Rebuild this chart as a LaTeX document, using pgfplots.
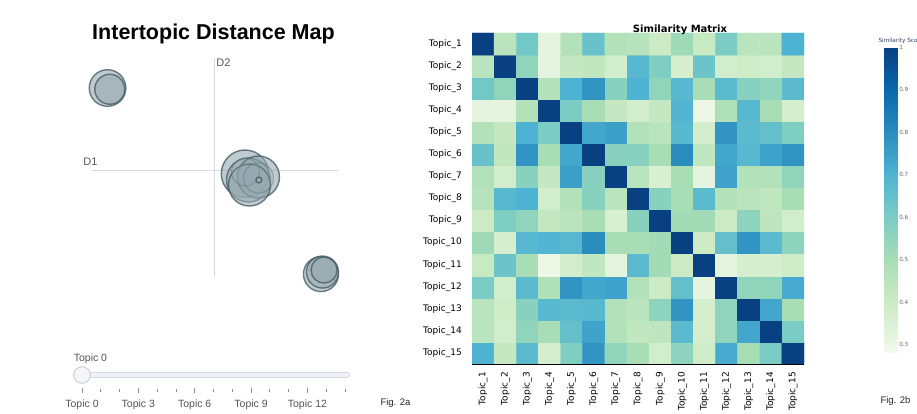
\documentclass[border=0pt]{standalone}
\usepackage{pgfplots}
\pgfplotsset{compat=1.18}
\usepackage{fontspec}
\setmainfont{Liberation Sans}
\newfontfamily\dejavu{DejaVu Sans}
\definecolor{bubblefill}{RGB}{150,168,175}
\definecolor{bubbleedge}{RGB}{70,95,100}
\definecolor{axgray}{RGB}{215,218,222}
\definecolor{lblgray}{RGB}{85,85,85}
\definecolor{trackedge}{RGB}{212,218,226}
\definecolor{trackfill}{RGB}{238,241,245}
\definecolor{knobfill}{RGB}{244,246,249}
\definecolor{knobedge}{RGB}{200,209,219}
\definecolor{cbtext}{RGB}{90,100,115}
\definecolor{cbtitle}{RGB}{42,63,95}
\pgfplotsset{colormap={gnbu}{rgb255(0cm)=(245,251,239); rgb255(4cm)=(228,244,222); rgb255(12cm)=(204,235,197); rgb255(22cm)=(168,221,181); rgb255(32cm)=(123,204,196); rgb255(42cm)=(78,179,211); rgb255(52cm)=(43,140,190); rgb255(62cm)=(8,104,172); rgb255(72cm)=(8,64,129)}}
\begin{document}
\begin{tikzpicture}
\useasboundingbox (0,0) rectangle (917pt,414pt);
% ---------------- Intertopic distance map ----------------
\begin{axis}[at={(91pt,137pt)}, anchor=south west, scale only axis,
  width=247pt, height=219pt, xmin=-1, xmax=1, ymin=-0.955, ymax=1,
  hide axis, clip=false]
\addplot[draw=axgray, line width=1pt] coordinates {(-1,0) (1,0)};
\addplot[draw=axgray, line width=1pt] coordinates {(0,-0.955) (0,1)};
\addplot[scatter, only marks, mark=*,
  scatter/use mapped color={draw=bubbleedge, fill=bubblefill, fill opacity=0.6, draw opacity=0.8},
  visualization depends on={\thisrow{r} \as \perpointmarksize},
  scatter/@pre marker code/.append style={/tikz/mark size=\perpointmarksize},
  mark options={line width=1.4pt}]
  table {
x y r
-0.866 0.732 18.3
-0.848 0.721 15
0.862 -0.929 17.5
0.874 -0.911 16
0.887 -0.893 13
0.247 -0.033 23.7
0.275 -0.089 22
0.356 -0.0625 21
0.283 -0.134 21
};
\addplot[scatter, only marks, mark=*,
  scatter/use mapped color={draw=bubbleedge, fill=bubblefill, fill opacity=0.25, draw opacity=0.35},
  visualization depends on={\thisrow{r} \as \perpointmarksize},
  scatter/@pre marker code/.append style={/tikz/mark size=\perpointmarksize},
  mark options={line width=1pt}]
  table {
x y r
0.251 -0.018 14
0.356 -0.071 15
};
\addplot[only marks, mark=o, mark size=3pt, mark options={draw=bubbleedge, line width=1.1pt}] coordinates {(0.359,-0.089)};
\node[font=\fontsize{11}{13}\selectfont, text=lblgray] at (axis cs:-1.004,0.074) {D1};
\node[font=\fontsize{11}{13}\selectfont, text=lblgray] at (axis cs:0.073,0.958) {D2};
\end{axis}
\node[anchor=base, font=\bfseries\fontsize{21.5}{24}\selectfont] at (213.5pt,374pt) {Intertopic Distance Map};
% ---------------- Slider ----------------
\begin{axis}[at={(82pt,23pt)}, anchor=south west, scale only axis,
  width=263pt, height=40pt, xmin=0, xmax=14, ymin=0, ymax=40, clip=false,
  axis line style={draw=none}, ytick=\empty,
  xtick={0,3,6,9,12}, xticklabels={Topic 0,Topic 3,Topic 6,Topic 9,Topic 12},
  minor xtick={1,2,4,5,7,8,10,11,13,14},
  xtick pos=left, tick align=center, major tick length=5pt, minor tick length=3pt,
  tick style={color=black!45, line width=0.8pt},
  xticklabel style={font=\fontsize{10.5}{12}\selectfont, text=lblgray, inner sep=2pt, yshift=-4pt}]
\addplot[draw=trackedge, line width=6.5pt, line cap=round] coordinates {(0,16) (14.1,16)};
\addplot[draw=trackfill, line width=4.5pt, line cap=round] coordinates {(0,16) (14.1,16)};
\addplot[only marks, mark=*, mark size=8.3pt, mark options={fill=knobfill, draw=knobedge, line width=1pt}] coordinates {(0,16)};
\node[font=\fontsize{10.5}{12}\selectfont, text=lblgray] at (axis cs:0.45,32.5) {Topic 0};
\end{axis}
\node[anchor=base west, font=\fontsize{9.5}{11}\selectfont, text=black!85] at (377pt,8pt) {Fig. 2a};
% ---------------- Similarity matrix ----------------
\begin{axis}[at={(472pt,50pt)}, anchor=south west, scale only axis,
  width=332pt, height=331pt, xmin=0.5, xmax=15.5, ymin=0.5, ymax=15.5,
  colormap name=gnbu, point meta min=0.28, point meta max=1,
  axis x line*=bottom, axis y line*=left,
  axis line style={black, line width=0.8pt},
  major tick length=0pt,
  xtick={1,...,15}, ytick={1,...,15},
  xticklabels={Topic\_1,Topic\_2,Topic\_3,Topic\_4,Topic\_5,Topic\_6,Topic\_7,Topic\_8,Topic\_9,Topic\_10,Topic\_11,Topic\_12,Topic\_13,Topic\_14,Topic\_15},
  yticklabels={Topic\_15,Topic\_14,Topic\_13,Topic\_12,Topic\_11,Topic\_10,Topic\_9,Topic\_8,Topic\_7,Topic\_6,Topic\_5,Topic\_4,Topic\_3,Topic\_2,Topic\_1},
  xticklabel style={rotate=90, anchor=east, font=\dejavu\fontsize{9}{10}\selectfont, inner xsep=8pt, inner ysep=0pt},
  yticklabel style={anchor=east, font=\dejavu\fontsize{9}{10}\selectfont, inner xsep=10pt, inner ysep=0pt},
  colorbar,
  colorbar style={at={(parent axis.north east)}, anchor=north west,
    xshift=72pt, yshift=-14pt, scale only axis, width=13pt, height=306pt,
    ytick={0.3,0.4,0.5,0.6,0.7,0.8,0.9,1},
    yticklabels={0.3,0.4,0.5,0.6,0.7,0.8,0.9,1},
    yticklabel style={font=\dejavu\fontsize{5.7}{6.5}\selectfont, text=cbtext, inner sep=1.5pt},
    major tick length=0pt, axis line style={draw=none}}]
\addplot[matrix plot*, mesh/cols=15, point meta=explicit] coordinates {
(1,1)[0.70] (2,1)[0.42] (3,1)[0.67] (4,1)[0.37] (5,1)[0.59] (6,1)[0.78] (7,1)[0.55] (8,1)[0.50] (9,1)[0.38] (10,1)[0.56] (11,1)[0.39] (12,1)[0.72] (13,1)[0.50] (14,1)[0.60] (15,1)[1.00]
(1,2)[0.45] (2,2)[0.38] (3,2)[0.55] (4,2)[0.50] (5,2)[0.65] (6,2)[0.74] (7,2)[0.47] (8,2)[0.43] (9,2)[0.44] (10,2)[0.67] (11,2)[0.37] (12,2)[0.55] (13,2)[0.73] (14,2)[1.00] (15,2)[0.60]
(1,3)[0.45] (2,3)[0.39] (3,3)[0.57] (4,3)[0.68] (5,3)[0.67] (6,3)[0.68] (7,3)[0.47] (8,3)[0.45] (9,3)[0.56] (10,3)[0.78] (11,3)[0.37] (12,3)[0.55] (13,3)[1.00] (14,3)[0.73] (15,3)[0.50]
(1,4)[0.60] (2,4)[0.38] (3,4)[0.67] (4,4)[0.48] (5,4)[0.78] (6,4)[0.73] (7,4)[0.74] (8,4)[0.47] (9,4)[0.40] (10,4)[0.65] (11,4)[0.32] (12,4)[1.00] (13,4)[0.55] (14,4)[0.55] (15,4)[0.72]
(1,5)[0.41] (2,5)[0.63] (3,5)[0.50] (4,5)[0.30] (5,5)[0.38] (6,5)[0.43] (7,5)[0.32] (8,5)[0.67] (9,5)[0.51] (10,5)[0.40] (11,5)[1.00] (12,5)[0.32] (13,5)[0.37] (14,5)[0.37] (15,5)[0.39]
(1,6)[0.52] (2,6)[0.37] (3,6)[0.68] (4,6)[0.69] (5,6)[0.68] (6,6)[0.80] (7,6)[0.50] (8,6)[0.50] (9,6)[0.51] (10,6)[1.00] (11,6)[0.40] (12,6)[0.65] (13,6)[0.78] (14,6)[0.67] (15,6)[0.56]
(1,7)[0.40] (2,7)[0.59] (3,7)[0.55] (4,7)[0.42] (5,7)[0.45] (6,7)[0.50] (7,7)[0.36] (8,7)[0.57] (9,7)[1.00] (10,7)[0.51] (11,7)[0.51] (12,7)[0.40] (13,7)[0.56] (14,7)[0.44] (15,7)[0.38]
(1,8)[0.46] (2,8)[0.68] (3,8)[0.70] (4,8)[0.38] (5,8)[0.47] (6,8)[0.57] (7,8)[0.45] (8,8)[1.00] (9,8)[0.57] (10,8)[0.50] (11,8)[0.67] (12,8)[0.47] (13,8)[0.45] (14,8)[0.43] (15,8)[0.50]
(1,9)[0.47] (2,9)[0.38] (3,9)[0.57] (4,9)[0.42] (5,9)[0.75] (6,9)[0.57] (7,9)[1.00] (8,9)[0.45] (9,9)[0.36] (10,9)[0.50] (11,9)[0.32] (12,9)[0.74] (13,9)[0.47] (14,9)[0.47] (15,9)[0.55]
(1,10)[0.64] (2,10)[0.43] (3,10)[0.78] (4,10)[0.50] (5,10)[0.73] (6,10)[1.00] (7,10)[0.57] (8,10)[0.57] (9,10)[0.50] (10,10)[0.80] (11,10)[0.43] (12,10)[0.73] (13,10)[0.68] (14,10)[0.74] (15,10)[0.78]
(1,11)[0.47] (2,11)[0.42] (3,11)[0.70] (4,11)[0.60] (5,11)[1.00] (6,11)[0.73] (7,11)[0.75] (8,11)[0.47] (9,11)[0.45] (10,11)[0.68] (11,11)[0.38] (12,11)[0.78] (13,11)[0.67] (14,11)[0.65] (15,11)[0.59]
(1,12)[0.32] (2,12)[0.32] (3,12)[0.47] (4,12)[1.00] (5,12)[0.60] (6,12)[0.50] (7,12)[0.42] (8,12)[0.38] (9,12)[0.42] (10,12)[0.69] (11,12)[0.30] (12,12)[0.48] (13,12)[0.68] (14,12)[0.50] (15,12)[0.37]
(1,13)[0.62] (2,13)[0.55] (3,13)[1.00] (4,13)[0.47] (5,13)[0.70] (6,13)[0.78] (7,13)[0.57] (8,13)[0.70] (9,13)[0.55] (10,13)[0.68] (11,13)[0.50] (12,13)[0.67] (13,13)[0.57] (14,13)[0.55] (15,13)[0.67]
(1,14)[0.45] (2,14)[1.00] (3,14)[0.55] (4,14)[0.32] (5,14)[0.42] (6,14)[0.43] (7,14)[0.38] (8,14)[0.68] (9,14)[0.59] (10,14)[0.37] (11,14)[0.63] (12,14)[0.38] (13,14)[0.39] (14,14)[0.38] (15,14)[0.42]
(1,15)[1.00] (2,15)[0.45] (3,15)[0.62] (4,15)[0.32] (5,15)[0.47] (6,15)[0.64] (7,15)[0.47] (8,15)[0.46] (9,15)[0.40] (10,15)[0.52] (11,15)[0.41] (12,15)[0.60] (13,15)[0.45] (14,15)[0.45] (15,15)[0.70]
};
\end{axis}
\node[anchor=base, font=\dejavu\bfseries\fontsize{10}{12}\selectfont] at (680pt,381pt) {Similarity Matrix};
\node[anchor=base west, font=\dejavu\fontsize{5.7}{6.5}\selectfont, text=cbtitle] at (875pt,371pt) {Similarity Score};
\node[anchor=base west, font=\fontsize{9.5}{11}\selectfont, text=black!85] at (877pt,10pt) {Fig. 2b};
\end{tikzpicture}
\end{document}
